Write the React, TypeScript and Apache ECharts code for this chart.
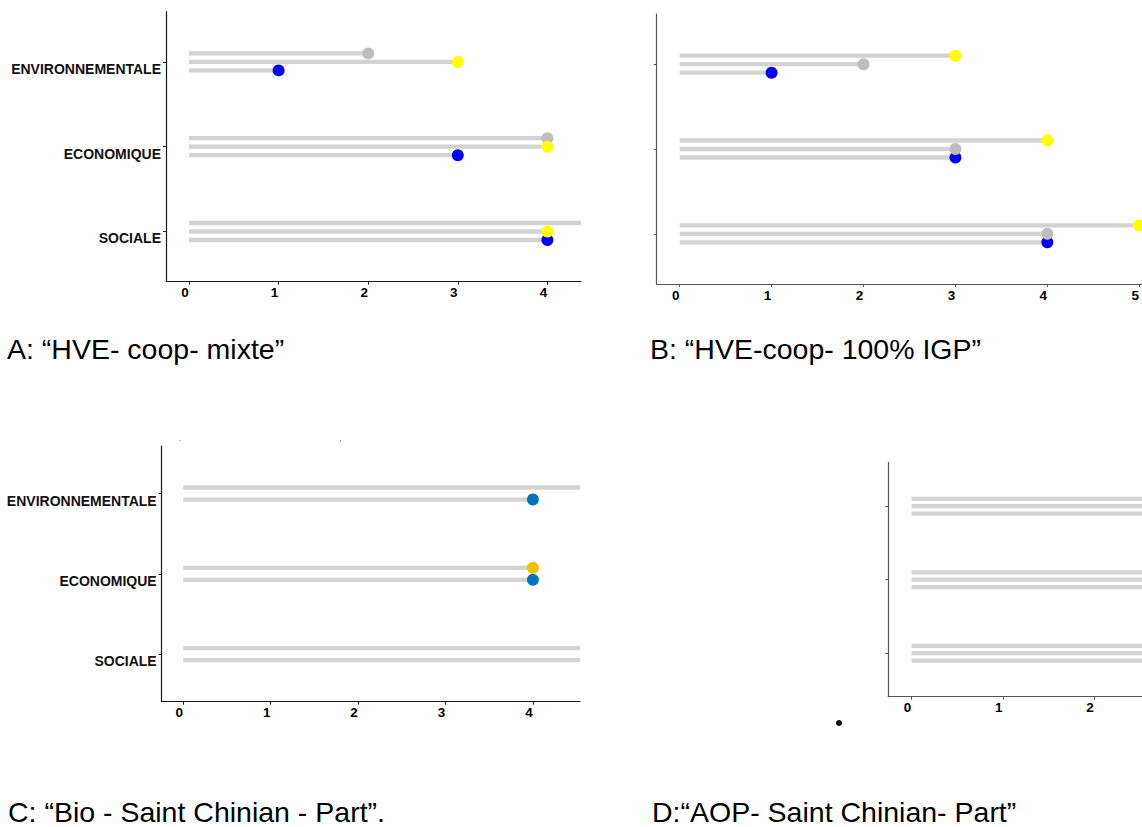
import React, { useEffect, useRef } from "react";
import * as echarts from "echarts";

// ---- Data ----
const CATEGORIES = ["ENVIRONNEMENTALE", "ECONOMIQUE", "SOCIALE"];
const X_TICKS_ABC = [0, 1, 2, 3, 4];
const X_TICKS_B = [0, 1, 2, 3, 4, 5];
const X_TICKS_D = [0, 1, 2];

// Panel A: "HVE- coop- mixte" (rows top->bottom within group: grey, yellow, blue)
const A_GREY = [2, 4, 5];
const A_YELLOW = [3, 4, 4];
const A_BLUE = [1, 3, 4];

// Panel B: "HVE-coop- 100% IGP" (rows: yellow, grey, blue)
const B_YELLOW = [3, 4, 5];
const B_GREY = [2, 3, 4];
const B_BLUE = [1, 3, 4];

// Panel C: "Bio - Saint Chinian - Part" (rows: gold, blue)
const C_GOLD = [5, 4, 5];
const C_BLUE = [4, 4, 5];

// Panel D: "AOP- Saint Chinian- Part" (all values beyond the visible range)
const D_GREY = [4, 4, 4];
const D_YELLOW = [3, 4, 4];
const D_BLUE = [3, 3, 4];

const TITLES = [
  "A: \u201cHVE- coop- mixte\u201d",
  "B: \u201cHVE-coop- 100% IGP\u201d",
  "C: \u201cBio - Saint Chinian - Part\u201d.",
  "D:\u201cAOP- Saint Chinian- Part\u201d",
];

const GREY = "#BEBEBE";
const YELLOW = "#FFFF00";
const BLUE = "#0000FF";
const JCO_BLUE = "#0073C2";
const JCO_GOLD = "#EFC000";
const SEG = "#D3D3D3";
const DODGE = 0.3;
const FONT = "Liberation Sans, Arial, sans-serif";

type Row = { values: number[]; color: string; slot: number; order: number };

function panelSeries(gridIndex: number, rows: Row[]) {
  const n = rows.length;
  const offset = (slot: number) => ((slot + 0.5) / n) * DODGE - DODGE / 2;
  const out: any[] = [];
  rows.forEach((r) => {
    const data = r.values.map((v, i) => [v, i + 1 + offset(r.slot)]);
    out.push({
      type: "custom",
      xAxisIndex: gridIndex,
      yAxisIndex: gridIndex,
      z: 1,
      encode: { x: 0, y: 1 },
      data,
      renderItem: (params: any, api: any) => {
        const y = api.value(1);
        const s = api.coord([0, y]);
        const e = api.coord([api.value(0), y]);
        const h = 4.3;
        const cs = params.coordSys;
        const shape = echarts.graphic.clipRectByRect(
          { x: s[0], y: s[1] - h / 2, width: e[0] - s[0], height: h },
          { x: cs.x, y: cs.y, width: cs.width, height: cs.height }
        );
        if (!shape) return null;
        return { type: "rect", shape, style: { fill: SEG } };
      },
      silent: true,
    });
  });
  [...rows]
    .sort((a, b) => a.order - b.order)
    .forEach((r) => {
      const data = r.values.map((v, i) => [v, i + 1 + offset(r.slot)]);
      out.push({
        type: "scatter",
        xAxisIndex: gridIndex,
        yAxisIndex: gridIndex,
        z: 2,
        clip: true,
        symbol: "circle",
        symbolSize: 12,
        itemStyle: { color: r.color, opacity: 1 },
        data,
        silent: true,
      });
    });
  return out;
}

function xAxis(gridIndex: number, min: number, max: number, ticks: number[], lineColor: string) {
  return {
    type: "value",
    gridIndex,
    min,
    max,
    axisLine: { show: true, onZero: false, lineStyle: { color: lineColor, width: 1.2 } },
    axisTick: { show: true, length: 3, customValues: ticks, lineStyle: { color: lineColor, width: 1 } },
    axisLabel: {
      show: true,
      customValues: ticks,
      margin: 4,
      color: "#000",
      fontWeight: "bold",
      fontSize: 13.5,
      fontFamily: FONT,
      padding: [0, 8, 0, 0],
    },
    splitLine: { show: false },
  };
}

function yAxis(gridIndex: number, showLabels: boolean, lineColor: string) {
  return {
    type: "value",
    gridIndex,
    inverse: true,
    min: 0.408,
    max: 3.592,
    axisLine: { show: true, onZero: false, lineStyle: { color: lineColor, width: 1.2 } },
    axisTick: { show: true, length: 3, customValues: [1, 2, 3], lineStyle: { color: lineColor, width: 1 } },
    axisLabel: {
      show: showLabels,
      customValues: [1, 2, 3],
      formatter: (v: number) => CATEGORIES[Math.round(v) - 1] || "",
      margin: 5,
      color: "#111",
      fontWeight: "bold",
      fontSize: 14,
      fontFamily: FONT,
      verticalAlign: "top",
    },
    splitLine: { show: false },
  };
}

export default function App() {
  const ref = useRef<HTMLDivElement>(null);

  useEffect(() => {
    if (!ref.current) return;
    const chart = echarts.init(ref.current, undefined, { renderer: "svg" });

    const series = [
      ...panelSeries(0, [
        { values: A_GREY, color: GREY, slot: 0, order: 1 },
        { values: A_YELLOW, color: YELLOW, slot: 1, order: 2 },
        { values: A_BLUE, color: BLUE, slot: 2, order: 0 },
      ]),
      ...panelSeries(1, [
        { values: B_YELLOW, color: YELLOW, slot: 0, order: 2 },
        { values: B_GREY, color: GREY, slot: 1, order: 1 },
        { values: B_BLUE, color: BLUE, slot: 2, order: 0 },
      ]),
      ...panelSeries(2, [
        { values: C_GOLD, color: JCO_GOLD, slot: 0, order: 1 },
        { values: C_BLUE, color: JCO_BLUE, slot: 1, order: 0 },
      ]),
      ...panelSeries(3, [
        { values: D_GREY, color: GREY, slot: 0, order: 1 },
        { values: D_YELLOW, color: YELLOW, slot: 1, order: 2 },
        { values: D_BLUE, color: BLUE, slot: 2, order: 0 },
      ]),
    ];

    const titleStyle = (text: string) => ({
      text,
      fill: "#000",
      font: `28.5px ${FONT}`,
      verticalAlign: "middle",
      align: "left",
    });

    chart.setOption({
      animation: false,
      backgroundColor: "#ffffff",
      grid: [
        { left: 166, top: 11.7, width: 415, height: 270 },
        { left: 656.7, top: 14, width: 485.3, height: 270 },
        { left: 161.7, top: 446, width: 418.3, height: 255.7 },
        { left: 888.3, top: 462.7, width: 253.7, height: 234 },
      ],
      xAxis: [
        xAxis(0, -0.257, 4.375, X_TICKS_ABC, "#1a1a1a"),
        xAxis(1, -0.25, 5.025, X_TICKS_B, "#555"),
        xAxis(2, -0.247, 4.539, X_TICKS_ABC, "#1a1a1a"),
        xAxis(3, -0.2555, 2.526, X_TICKS_D, "#555"),
      ],
      yAxis: [
        yAxis(0, true, "#1a1a1a"),
        yAxis(1, false, "#555"),
        yAxis(2, true, "#1a1a1a"),
        yAxis(3, false, "#555"),
      ],
      series,
      graphic: [
        { type: "text", x: 7, y: 349, style: titleStyle(TITLES[0]) },
        { type: "text", x: 650, y: 349, style: titleStyle(TITLES[1]) },
        { type: "text", x: 8, y: 812, style: titleStyle(TITLES[2]) },
        { type: "text", x: 652, y: 812, style: titleStyle(TITLES[3]) },
        { type: "circle", shape: { cx: 839, cy: 723, r: 3 }, style: { fill: "#000" } },
        { type: "rect", shape: { x: 179.5, y: 440, width: 1, height: 1 }, style: { fill: "#888" } },
        { type: "rect", shape: { x: 340, y: 440, width: 1, height: 1 }, style: { fill: "#888" } },
      ],
    });

    return () => chart.dispose();
  }, []);

  return (
    <div
      ref={ref}
      style={{ position: "fixed", left: 0, top: 0, width: 1142, height: 827, background: "#fff" }}
    />
  );
}
